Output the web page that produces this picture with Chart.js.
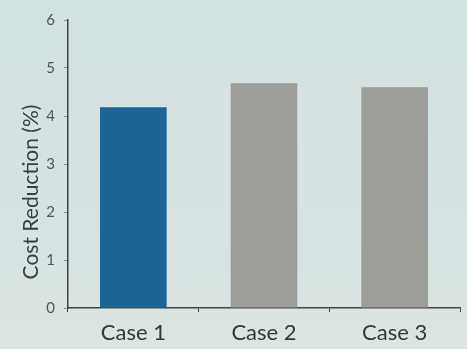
<!DOCTYPE html>
<html>
<head>
<meta charset="utf-8">
<script src="https://cdn.jsdelivr.net/npm/chart.js@4/dist/chart.umd.min.js"></script>
<style>
  html, body { margin: 0; padding: 0; }
  body {
    width: 467px; height: 349px; overflow: hidden;
    background: linear-gradient(180deg, #d2e1e2 0%, #d6e3e2 60%, #dbe5e3 100%);
  }
  #wrap { width: 467px; height: 349px; position: relative; }
</style>
</head>
<body>
<div id="wrap"><canvas id="c"></canvas></div>
<script>
// Cost reduction per case
const categories = ['Case 1', 'Case 2', 'Case 3'];
const costReduction = [4.18, 4.68, 4.6];
const barColors = ['#1d6597', '#9d9d99', '#9d9d99'];
const yTicks = [0, 1, 2, 3, 4, 5, 6];
const yTitle = 'Cost Reduction (%)';

const axisColor = '#3f4545';
const font = 'Lato, "Open Sans", sans-serif';

// Vertical axis title, drawn beside the y scale and a little below its middle
const yTitlePlugin = {
  id: 'yTitle',
  afterDraw(chart) {
    const { ctx, scales: { y } } = chart;
    ctx.save();
    ctx.translate(y.left + 31, (y.top + y.bottom) / 2 + 28);
    ctx.rotate(-Math.PI / 2);
    ctx.fillStyle = '#384040';
    ctx.font = '21px ' + font;
    ctx.textAlign = 'center';
    ctx.textBaseline = 'middle';
    ctx.fillText(yTitle, 0, 0);
    ctx.restore();
  }
};

new Chart(document.getElementById('c'), {
  type: 'bar',
  data: {
    labels: categories,
    datasets: [{
      data: costReduction,
      backgroundColor: barColors,
      borderWidth: 0,
      barPercentage: 0.51,
      categoryPercentage: 1.0
    }]
  },
  options: {
    responsive: true,
    maintainAspectRatio: false,
    animation: false,
    layout: { padding: { top: 20, right: 7, left: 0, bottom: 0 } },
    plugins: { legend: { display: false }, tooltip: { enabled: false } },
    scales: {
      x: {
        grid: {
          display: true,
          drawOnChartArea: false,
          tickLength: 4,
          tickColor: axisColor
        },
        border: { color: axisColor, width: 1.5 },
        ticks: {
          color: '#333838',
          font: { family: font, size: 22 },
          padding: 8
        },
        afterFit: (s) => { s.height = 41; }
      },
      y: {
        min: 0,
        max: 6,
        afterBuildTicks: (s) => { s.ticks = yTicks.map(v => ({ value: v })); },
        grid: {
          display: true,
          drawOnChartArea: false,
          tickLength: 4,
          tickColor: '#8a9090'
        },
        border: { color: axisColor, width: 1.5 },
        ticks: {
          color: '#4f5555',
          font: { family: font, size: 15 },
          padding: 9
        },
        title: { display: false, text: yTitle },
        afterFit: (s) => { s.width = 68; }
      }
    }
  },
  plugins: [yTitlePlugin]
});
</script>
</body>
</html>
